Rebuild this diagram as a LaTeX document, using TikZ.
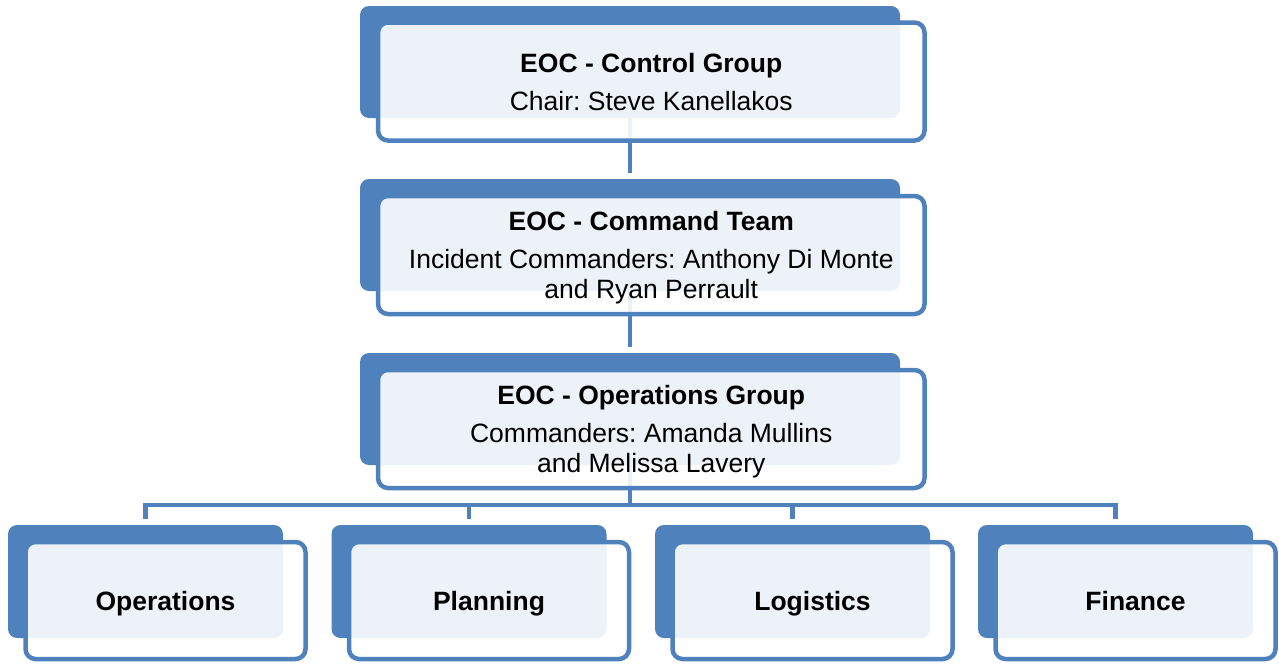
\documentclass[tikz,border=0pt]{standalone}
\usepackage{fontspec}
\setmainfont{Liberation Sans}
\frenchspacing
\definecolor{ofblue}{HTML}{4F81BD}
\begin{document}
\begin{tikzpicture}[x=1pt,y=-1pt,
  backbox/.style={rectangle, rounded corners=9pt, fill=ofblue, inner sep=0pt},
  frontbox/.style={rectangle, rounded corners=10pt, draw=ofblue, line width=4.5pt,
    fill=white, fill opacity=0.9, text opacity=1, inner sep=0pt, align=center,
    text depth=0pt, font=\fontsize{26.5}{30}\selectfont\frenchspacing},
  bigback/.style={backbox, minimum width=540pt, minimum height=112pt},
  bigfront/.style={frontbox, minimum width=546.5pt, minimum height=118pt},
  smallback/.style={backbox, minimum width=275pt, minimum height=113pt},
  smallfront/.style={frontbox, minimum width=280pt, minimum height=117pt},
  conn/.style={draw=ofblue, line width=4.5pt}
]
\useasboundingbox (0,0) rectangle (1279,664);

% back boxes
\node[bigback] (b1) at (630,62) {};
\node[bigback] (b2) at (630,235) {};
\node[bigback] (b3) at (630,409) {};
\node[smallback] (ob1) at (145.5,581.5) {};
\node[smallback] (ob2) at (469,581.5) {};
\node[smallback] (ob3) at (792.5,581.5) {};
\node[smallback] (ob4) at (1115.5,581.5) {};

% connectors
\coordinate (bar) at (630,505);
\draw[conn, shorten >=6pt] (b1.south) -- (b2.north);
\draw[conn, shorten >=6pt] (b2.south) -- (b3.north);
\draw[conn] (b3.south) -- (bar);
\draw[conn, shorten >=6pt] (bar) -| (ob1.north);
\draw[conn, shorten >=6pt] (bar) -| (ob2.north);
\draw[conn, shorten >=6pt] (bar) -| (ob3.north);
\draw[conn, shorten >=6pt] (bar) -| (ob4.north);

% front boxes
\node[bigfront] (f1) at (651.25,81.5) {\textbf{EOC - Control Group}\\[8pt]Chair: Steve Kanellakos};
\node[bigfront] (f2) at (651.25,255) {\textbf{EOC - Command Team}\\[8pt]Incident Commanders: Anthony Di Monte\\and Ryan Perrault};
\node[bigfront] (f3) at (651.25,429) {\textbf{EOC - Operations Group}\\[8pt]Commanders: Amanda Mullins\\and Melissa Lavery};
\node[smallfront] (o1) at (165.5,600.5) {\textbf{Operations}};
\node[smallfront] (o2) at (489,600.5) {\textbf{Planning}};
\node[smallfront] (o3) at (812.5,600.5) {\textbf{Logistics}};
\node[smallfront] (o4) at (1135.5,600.5) {\textbf{Finance}};
\end{tikzpicture}
\end{document}
